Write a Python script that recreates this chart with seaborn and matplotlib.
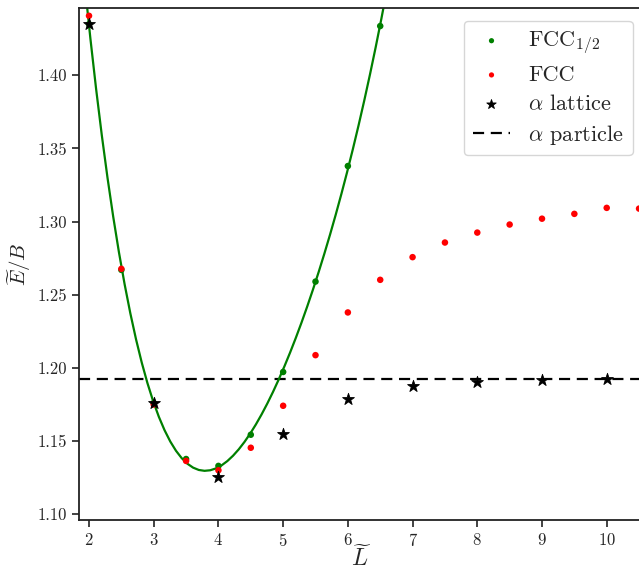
import numpy as np
import matplotlib
matplotlib.use("Agg")
import matplotlib.pyplot as plt
import seaborn as sns

# FCC_1/2 points (green) and its fit
L_half = [2.0, 2.5, 3.0, 3.5, 4.0, 4.5, 5.0, 5.5, 6.0, 6.5]
E_half = [1.435, 1.267, 1.176, 1.1377, 1.133, 1.1543, 1.1972, 1.259, 1.338, 1.4337]

# FCC points (red)
L_fcc = [2.0, 2.5, 3.0, 3.5, 4.0, 4.5, 5.0, 5.5, 6.0, 6.5, 7.0, 7.5, 8.0, 8.5, 9.0, 9.5, 10.0, 10.5]
E_fcc = [1.4407, 1.2677, 1.175, 1.1364, 1.130, 1.1454, 1.1741, 1.2087, 1.2379, 1.2602,
         1.2757, 1.2857, 1.2925, 1.298, 1.302, 1.3053, 1.3094, 1.3089]

# alpha lattice (stars)
L_alpha = [2, 3, 4, 5, 6, 7, 8, 9, 10]
E_alpha = [1.435, 1.176, 1.1251, 1.155, 1.1787, 1.1873, 1.1903, 1.1917, 1.1921]

# alpha particle reference
E_particle = 1.1923

sns.set_theme(style="ticks")
plt.rcParams["font.family"] = ["serif"]
plt.rcParams["font.serif"] = ["cmr10", "DejaVu Serif"]
plt.rcParams["mathtext.fontset"] = "cm"
plt.rcParams["axes.formatter.use_mathtext"] = True
plt.rcParams["axes.unicode_minus"] = False

fig = plt.figure(figsize=(6.39, 5.71), dpi=100)
ax = fig.add_axes([0.1236, 0.0893, 0.884, 0.8966])
ax.set_xlim(1.845, 10.574)
ax.set_ylim(1.096, 1.446)

sns.regplot(x=L_half, y=E_half, order=4, ci=None, scatter=False, truncate=False,
            ax=ax, line_kws=dict(color="green", lw=1.6, zorder=2))
sns.scatterplot(x=L_half, y=E_half, ax=ax, color="green", s=22, edgecolor="none",
                label=r"FCC$_{1/2}$", zorder=3)
sns.scatterplot(x=L_fcc, y=E_fcc, ax=ax, color="red", s=22, edgecolor="none",
                label="FCC", zorder=4)
sns.scatterplot(x=L_alpha, y=E_alpha, ax=ax, color="black", marker="*", s=80,
                edgecolor="black", linewidth=0.6, label=r"$\alpha$ lattice", zorder=5)
ax.axhline(E_particle, color="black", ls="--", lw=1.6, dashes=(5, 3),
           label=r"$\alpha$ particle", zorder=1)

ax.set_xticks([2, 3, 4, 5, 6, 7, 8, 9, 10])
ax.set_yticks([1.10, 1.15, 1.20, 1.25, 1.30, 1.35, 1.40])
ax.set_yticklabels(["1.10", "1.15", "1.20", "1.25", "1.30", "1.35", "1.40"])
ax.tick_params(labelsize=12, length=5, width=1.2, color="#222222")
for s in ax.spines.values():
    s.set_linewidth(1.3)
    s.set_color("#222222")

ax.set_xlabel(r"$\widetilde{L}$", fontsize=17)
ax.xaxis.set_label_coords(0.5, -0.048)
ax.set_ylabel(r"$\widetilde{E}/B$", fontsize=15, labelpad=3)

ax.legend(loc="upper right", bbox_to_anchor=(0.9805, 0.975), borderaxespad=0,
          fontsize=16, handlelength=1.7, borderpad=0.4, labelspacing=0.4,
          markerscale=0.8)

fig.savefig("out.png", dpi=100)
